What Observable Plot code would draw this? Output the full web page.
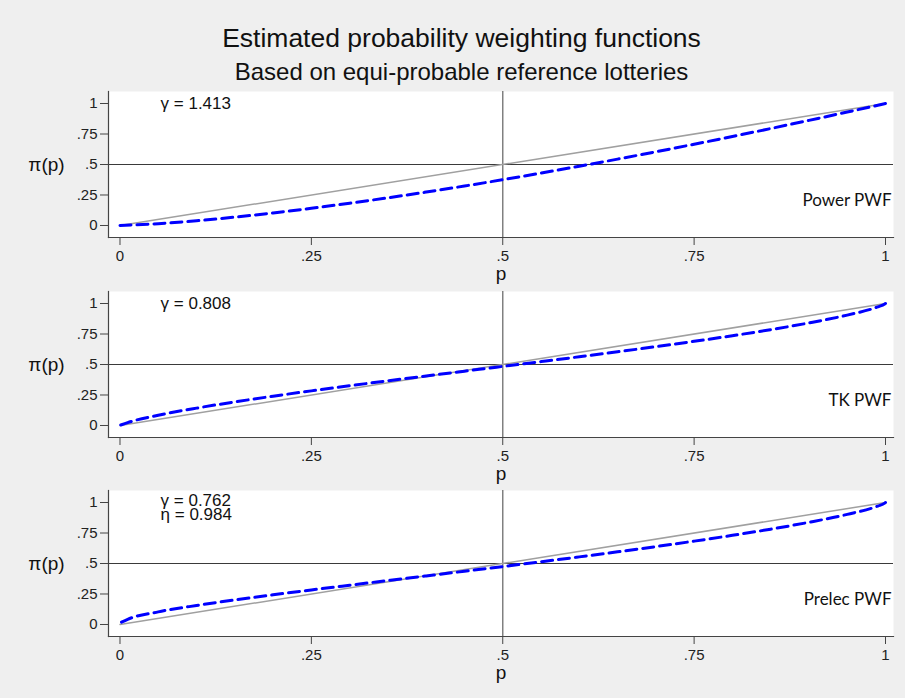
<!DOCTYPE html>
<html>
<head>
<meta charset="utf-8">
<script src="https://cdn.jsdelivr.net/npm/d3@7"></script>
<script src="https://cdn.jsdelivr.net/npm/@observablehq/plot@0.6"></script>
<style>
  html, body { margin: 0; padding: 0; background: #ffffff; }
  #fig { position: relative; width: 905px; height: 698px; background: #efefef; overflow: hidden; font-family: "Liberation Sans", Arial, sans-serif; }
  .title { position: absolute; left: 18px; width: 887px; text-align: center; color: #111; white-space: nowrap; line-height: 1.15; }
  .panel { position: absolute; left: 0; }
</style>
</head>
<body>
<div id="fig">
  <div class="title" id="t1" style="top:23px; font-size:26.5px;"></div>
  <div class="title" id="t2" style="top:58px; font-size:24px;"></div>
</div>
<script>
const titleText = "Estimated probability weighting functions";
const subtitleText = "Based on equi-probable reference lotteries";
const xLabel = "p";
const yLabel = "π(p)";

const tickValues = [0, 0.25, 0.5, 0.75, 1];
const tickLabels = ["0", ".25", ".5", ".75", "1"];

// Power PWF (gamma = 1.413)
const powerP = [0, 0.05, 0.10, 0.15, 0.20, 0.25, 0.30, 0.35, 0.40, 0.45, 0.50, 0.55, 0.60, 0.65, 0.70, 0.75, 0.80, 0.85, 0.90, 0.95, 0.99, 1];
const powerW = [0, 0.0145, 0.0386, 0.0685, 0.1029, 0.1410, 0.1825, 0.2269, 0.2740, 0.3236, 0.3755, 0.4297, 0.4859, 0.5441, 0.6041, 0.6660, 0.7296, 0.7948, 0.8617, 0.9301, 0.9859, 1];

// TK PWF (gamma = 0.808)
const tkP = [0.001, 0.01, 0.05, 0.10, 0.15, 0.20, 0.25, 0.30, 0.35, 0.40, 0.45, 0.50, 0.55, 0.60, 0.65, 0.70, 0.75, 0.80, 0.85, 0.90, 0.95, 0.99, 0.999, 1];
const tkW = [0.0038, 0.0237, 0.0838, 0.1424, 0.1934, 0.2401, 0.2839, 0.3258, 0.3664, 0.4061, 0.4453, 0.4844, 0.5237, 0.5635, 0.6041, 0.6461, 0.6898, 0.7359, 0.7857, 0.8407, 0.9050, 0.9725, 0.9955, 1];

// Prelec PWF (gamma = 0.762, eta = 0.984)
const prelecP = [0.002, 0.01, 0.05, 0.10, 0.15, 0.20, 0.25, 0.30, 0.35, 0.40, 0.45, 0.50, 0.55, 0.60, 0.65, 0.70, 0.75, 0.80, 0.85, 0.90, 0.95, 0.99, 0.999, 1];
const prelecW = [0.0191, 0.0428, 0.1033, 0.1560, 0.2013, 0.2431, 0.2831, 0.3219, 0.3602, 0.3983, 0.4365, 0.4751, 0.5143, 0.5544, 0.5957, 0.6385, 0.6833, 0.7307, 0.7816, 0.8377, 0.9027, 0.9709, 0.9949, 1];

const diagP = [0, 1];
const diagW = [0, 1];

const panelNames = ["Power PWF", "TK PWF", "Prelec PWF"];
const panelParams = [["γ = 1.413"], ["γ = 0.808"], ["γ = 0.762", "η = 0.984"]];
const panelParamY = [[1.0], [1.0], [1.015, 0.905]];
const panelTops = [88, 288, 487];

document.getElementById("t1").textContent = titleText;
document.getElementById("t2").textContent = subtitleText;

const series = [[powerP, powerW], [tkP, tkW], [prelecP, prelecW]];

function makePanel(i) {
  const [ps, ws] = series[i];
  const curve = ps.map((p, k) => ({p, w: ws[k]}));
  const diag = diagP.map((p, k) => ({p, w: diagW[k]}));
  const params = panelParams[i].map((t, k) => ({t, y: panelParamY[i][k]}));
  return Plot.plot({
    width: 905,
    height: 200,
    marginLeft: 108,
    marginRight: 12,
    marginTop: 3,
    marginBottom: 51,
    style: {background: "transparent", fontFamily: "Liberation Sans, Arial, sans-serif", color: "#222"},
    x: {domain: [-0.01502, 1.01045]},
    y: {domain: [-0.0984, 1.0984]},
    marks: [
      Plot.frame({fill: "white", stroke: null}),
      Plot.ruleY([0.5], {stroke: "#3a3a3a", strokeWidth: 1}),
      Plot.ruleX([0.5], {stroke: "#808080", strokeWidth: 1.5}),
      Plot.line(diag, {x: "p", y: "w", stroke: "#a0a0a0", strokeWidth: 1.5}),
      Plot.line(curve, {x: "p", y: "w", stroke: "#0000ff", strokeWidth: 3, strokeDasharray: "11,6", curve: "monotone-x"}),
      Plot.frame({anchor: "left", stroke: "#444", strokeWidth: 1.2}),
      Plot.frame({anchor: "bottom", stroke: "#444", strokeWidth: 1.2}),
      Plot.axisY({ticks: tickValues, tickFormat: (d) => tickLabels[tickValues.indexOf(d)], tickSize: 8, tickPadding: 3, fontSize: 15, stroke: "#444", label: null, fill: "#222"}),
      Plot.axisX({ticks: tickValues, tickFormat: (d) => tickLabels[tickValues.indexOf(d)], tickSize: 8, tickPadding: 5, fontSize: 15, stroke: "#444", label: null, fill: "#222"}),
      Plot.text([yLabel], {frameAnchor: "left", y: () => 0.5, text: (d) => d, dx: -62, fontSize: 19, fill: "#111", textAnchor: "middle"}),
      Plot.text([xLabel], {frameAnchor: "bottom", text: (d) => d, dy: 36, lineAnchor: "middle", fontSize: 19, fill: "#111"}),
      Plot.text(params, {x: () => 0.053, y: "y", text: "t", textAnchor: "start", fontSize: 17, fill: "#111"}),
      Plot.text([panelNames[i]], {x: () => 1.0, y: () => 0.205, text: (d) => d, textAnchor: "end", dx: 6, fontSize: 17, fontFamily: "Lato, sans-serif", fill: "#111"})
    ]
  });
}

const fig = document.getElementById("fig");
for (let i = 0; i < 3; i++) {
  const el = makePanel(i);
  el.classList.add("panel");
  el.style.top = panelTops[i] + "px";
  fig.appendChild(el);
}
</script>
</body>
</html>
